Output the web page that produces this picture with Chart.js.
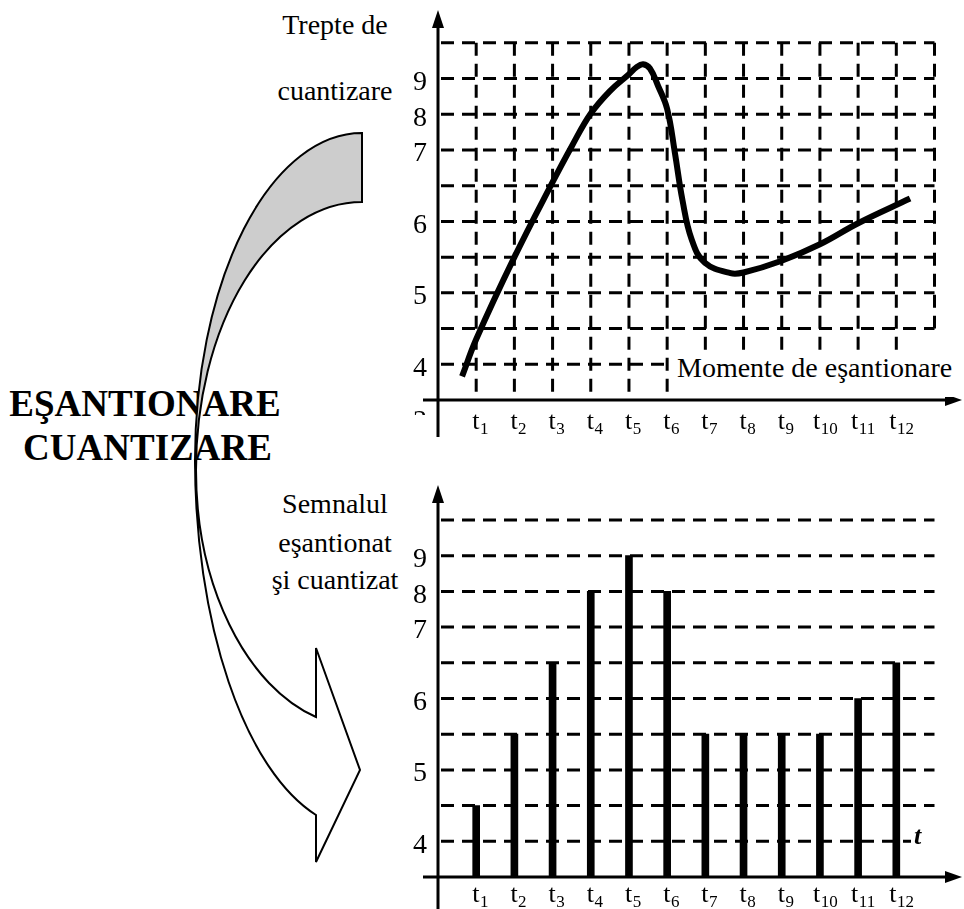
<!DOCTYPE html>
<html>
<head>
<meta charset="utf-8">
<script src="https://cdn.jsdelivr.net/npm/chart.js@4.4.0/dist/chart.umd.min.js"></script>
<style>
  html, body { margin: 0; padding: 0; background: #fff; }
  #page { position: relative; width: 964px; height: 909px; overflow: hidden;
          font-family: "Liberation Serif", "Times New Roman", serif; color: #000; }
  .lbl { position: absolute; font-size: 28px; line-height: 28px; white-space: nowrap; }
  .c { left: 235px; width: 200px; text-align: center; }
  .big { left: 0; text-align: center; font-weight: bold; font-size: 37px; line-height: 37px; }
  canvas { position: absolute; }
</style>
</head>
<body>
<div id="page">
  <div class="lbl c" style="top:11px">Trepte de</div>
  <div class="lbl c" style="top:77px">cuantizare</div>
  <div class="lbl c" style="top:490px">Semnalul</div>
  <div class="lbl c" style="top:529px">eşantionat</div>
  <div class="lbl c" style="top:566px">şi cuantizat</div>
  <div class="lbl big" style="width:290px;top:385px">EŞANTIONARE</div>
  <div class="lbl big" style="width:295px;top:429px">CUANTIZARE</div>

  <canvas id="topChart" width="584" height="440" style="left:380px;top:0"></canvas>
  <canvas id="bottomChart" width="584" height="429" style="left:380px;top:480px"></canvas>

  <div class="lbl" style="left:672px;top:352px;width:292px;height:45px;background:#fff;box-sizing:border-box;padding-left:5px;padding-top:2px">Momente de eşantionare</div>
  <div class="lbl" style="left:911px;top:822px;width:28px;height:30px;background:#fff;box-sizing:border-box;padding-left:3px;padding-top:1px;font-style:italic;font-weight:bold;font-size:26px;line-height:26px">t</div>

  <svg width="964" height="909" style="position:absolute;left:0;top:0" xmlns="http://www.w3.org/2000/svg">
    <path d="M362,133 A167,327 0 0 0 195,460 L196,470 A166,268 0 0 1 362,202 Z"
          fill="#cdcdcd" stroke="#000" stroke-width="2"/>
    <path d="M195,460 A167,370 0 0 0 316,815 L316,862 L360,770 L316,648 L316,717 A166,257 0 0 1 196,470 Z"
          fill="#fff" stroke="#000" stroke-width="2"/>
  </svg>
</div>

<script>
// quantization steps (grid rows) and the labels printed next to some of them
const levelSteps = [0, 1, 2, 3, 4, 5, 6, 7, 8, 9];
const levelTickSteps = [0, 2, 4, 6, 7, 8];
const levelTickLabels = ['4', '5', '6', '7', '8', '9'];

// sampling moments t1..t12
const sampleTimes = [1, 2, 3, 4, 5, 6, 7, 8, 9, 10, 11, 12];
const sampleNames = ['1', '2', '3', '4', '5', '6', '7', '8', '9', '10', '11', '12'];

// analog signal (time, level in steps)
const signalT = [0.63, 1, 2, 3, 3.5, 4, 4.5, 5, 5.2, 5.37, 5.55, 5.76, 6, 6.2, 6.4, 6.64, 6.98, 7.66, 8, 9, 10, 11, 12.36];
const signalLevel = [-0.34, 0.7, 3.0, 5.1, 6.1, 7.02, 7.65, 8.12, 8.32, 8.4, 8.28, 7.8, 7.15, 5.94, 4.6, 3.5, 2.85, 2.55, 2.57, 2.9, 3.36, 3.95, 4.64];

// sampled and quantized signal (level in steps)
const quantizedLevel = [1, 3, 5, 7, 8, 7, 3, 3, 3, 3, 4, 5];

const FONT = '"Liberation Serif", "Times New Roman", serif';

function seg(ctx, x1, y1, x2, y2) {
  ctx.beginPath();
  ctx.moveTo(x1, y1);
  ctx.lineTo(x2, y2);
  ctx.stroke();
}

function drawAxes(chart, yEnd) {
  const { ctx, scales: { x, y } } = chart;
  const x0 = x.getPixelForValue(0), y0 = y.getPixelForValue(-1);
  const xTip = x.getPixelForValue(x.max), yTip = y.getPixelForValue(y.max);
  ctx.save();
  ctx.setLineDash([]);
  ctx.lineWidth = 3;
  ctx.strokeStyle = ctx.fillStyle = '#000';
  seg(ctx, x0 - 15, y0, xTip - 12, y0);
  seg(ctx, x0, yEnd, x0, yTip + 12);
  ctx.beginPath();
  ctx.moveTo(xTip, y0); ctx.lineTo(xTip - 17, y0 - 6); ctx.lineTo(xTip - 17, y0 + 6);
  ctx.closePath(); ctx.fill();
  ctx.beginPath();
  ctx.moveTo(x0, yTip); ctx.lineTo(x0 - 6, yTip + 18); ctx.lineTo(x0 + 6, yTip + 18);
  ctx.closePath(); ctx.fill();
  ctx.restore();
}

function drawTimeLabels(chart, baseline) {
  const { ctx, scales: { x } } = chart;
  ctx.save();
  ctx.fillStyle = '#000';
  ctx.textBaseline = 'alphabetic';
  ctx.textAlign = 'left';
  sampleTimes.forEach((t, i) => {
    const sub = sampleNames[i];
    const left = x.getPixelForValue(t) - (sub.length > 1 ? 7 : 4);
    ctx.font = '26px ' + FONT;
    ctx.fillText('t', left, baseline);
    const w = ctx.measureText('t').width;
    ctx.font = '17px ' + FONT;
    ctx.fillText(sub, left + w + 0.5, baseline + 5);
  });
  ctx.restore();
}

function levelAxis(max) {
  return {
    min: -1,
    max: max,
    grid: { display: false, drawTicks: false },
    border: { display: false },
    afterBuildTicks(s) { s.ticks = levelTickSteps.map(v => ({ value: v })); },
    afterFit(s) { s.width = 58; s.paddingTop = 0; s.paddingBottom = 0; },
    ticks: {
      callback: v => levelTickLabels[levelTickSteps.indexOf(v)],
      font: { family: FONT, size: 28 },
      color: '#000',
      padding: 11,
      labelOffset: 4
    }
  };
}

function timeAxis(h) {
  return {
    type: 'linear',
    min: 0,
    max: 13.72,
    offset: false,
    grid: { display: false, drawTicks: false, offset: false },
    border: { display: false },
    ticks: { display: false },
    afterFit(s) { s.height = h; s.paddingLeft = 0; s.paddingRight = 0; }
  };
}

const topDecor = {
  id: 'topDecor',
  beforeDatasetsDraw(chart) {
    const { ctx, scales: { x, y } } = chart;
    ctx.save();
    ctx.lineWidth = 3;
    ctx.strokeStyle = '#000';
    ctx.setLineDash([13, 8]);
    levelSteps.forEach(s => {
      seg(ctx, x.getPixelForValue(0) + 3, y.getPixelForValue(s), x.getPixelForValue(13), y.getPixelForValue(s));
    });
    sampleTimes.forEach(t => {
      seg(ctx, x.getPixelForValue(t), y.getPixelForValue(9), x.getPixelForValue(t), y.getPixelForValue(-1));
    });
    seg(ctx, x.getPixelForValue(13), y.getPixelForValue(9), x.getPixelForValue(13), y.getPixelForValue(1));
    ctx.restore();
  },
  afterDraw(chart) {
    drawAxes(chart, 437);
    drawTimeLabels(chart, 429);
    // the cut-off digit just left of the origin
    const ctx = chart.ctx;
    ctx.save();
    ctx.beginPath();
    ctx.rect(30, 409, 18, 6);
    ctx.clip();
    ctx.fillStyle = '#000';
    ctx.font = '28px ' + FONT;
    ctx.fillText('3', 33, 429);
    ctx.restore();
  }
};

const bottomDecor = {
  id: 'bottomDecor',
  beforeDatasetsDraw(chart) {
    const { ctx, scales: { x, y } } = chart;
    ctx.save();
    ctx.lineWidth = 3;
    ctx.strokeStyle = '#000';
    ctx.setLineDash([13, 8]);
    levelSteps.forEach(s => {
      seg(ctx, x.getPixelForValue(0) + 3, y.getPixelForValue(s), x.getPixelForValue(13), y.getPixelForValue(s));
    });
    ctx.restore();
  },
  afterDraw(chart) {
    drawAxes(chart, chart.height);
    drawTimeLabels(chart, 422);
  }
};

new Chart(document.getElementById('topChart').getContext('2d'), {
  type: 'line',
  data: {
    datasets: [{
      data: signalT.map((t, i) => ({ x: t, y: signalLevel[i] })),
      borderColor: '#000',
      borderWidth: 6,
      pointRadius: 0,
      fill: false,
      tension: 0.4,
      borderJoinStyle: 'round'
    }]
  },
  options: {
    responsive: false,
    animation: false,
    events: [],
    layout: { padding: { top: 10, right: 2, left: 0, bottom: 0 } },
    plugins: { legend: { display: false }, tooltip: { enabled: false } },
    scales: { x: timeAxis(40), y: levelAxis(9.92) }
  },
  plugins: [topDecor]
});

new Chart(document.getElementById('bottomChart').getContext('2d'), {
  type: 'bar',
  data: {
    datasets: [{
      data: quantizedLevel.map((v, i) => ({ x: sampleTimes[i], y: [-1, v] })),
      backgroundColor: '#000',
      borderWidth: 0,
      barThickness: 7
    }]
  },
  options: {
    responsive: false,
    animation: false,
    events: [],
    layout: { padding: { top: 5, right: 2, left: 0, bottom: 0 } },
    plugins: { legend: { display: false }, tooltip: { enabled: false } },
    scales: { x: timeAxis(32), y: levelAxis(9.98) }
  },
  plugins: [bottomDecor]
});
</script>
</body>
</html>
